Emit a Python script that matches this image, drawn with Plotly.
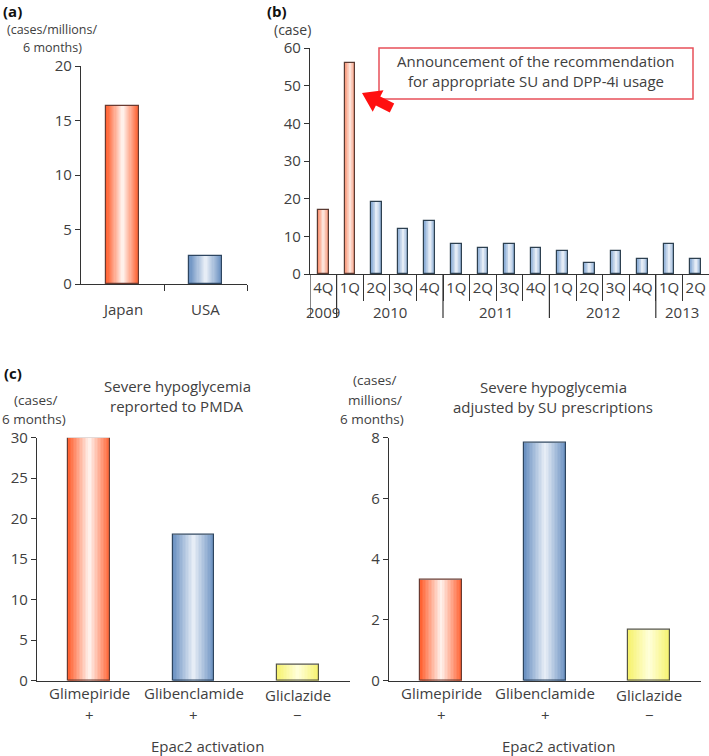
import plotly.graph_objects as go

W, H = 709, 756

# ---------------- data ----------------
a_categories = ["Japan", "USA"]
a_values = [16.3, 2.6]

b_quarters = ["4Q", "1Q", "2Q", "3Q", "4Q", "1Q", "2Q", "3Q", "4Q",
              "1Q", "2Q", "3Q", "4Q", "1Q", "2Q"]
b_year_groups = ["2009", "2010", "2011", "2012", "2013"]
b_year_counts = [1, 4, 4, 4, 2]
b_values = [17, 56, 19, 12, 14, 8, 7, 8, 7, 6, 3, 6, 4, 8, 4]
b_before = [True, True] + [False] * 13

c_drugs = ["Glimepiride", "Glibenclamide", "Gliclazide"]
c_epac2 = ["+", "+", "\u2212"]
c_pmda = [30, 18, 2]
c_adjusted = [3.33, 7.85, 1.67]

# ---------------- helpers ----------------
def px(x):
    return x / W

def py(y):
    return 1 - y / H

def hex2rgb(h):
    h = h.lstrip("#")
    return tuple(int(h[i:i + 2], 16) for i in (0, 2, 4))

def mix(c1, c2, t):
    a, b = hex2rgb(c1), hex2rgb(c2)
    return "rgb(%d,%d,%d)" % tuple(round(a[i] + (b[i] - a[i]) * t) for i in range(3))

RED = ("#FF6334", "#FFF0EA", "#6a3a30")
BLUE = ("#6C92C2", "#E6EDF6", "#2d4560")
YEL = ("#F6F270", "#FFFFD8", "#555544")
RED_B = ("#F99677", "#FDE2D8", "#5a3a32")
BLUE_B = ("#8DAED6", "#E4ECF6", "#2d4050")

TXT = "#404040"
FONT = "Open Sans"
AX = "#333333"

fig = go.Figure()

def grad_bars(xs, ys, xa, ya, width, styles, n=14):
    for k in range(n):
        t = k / (n - 1)
        w = width * (1 - k / n)
        cols = [mix(s[0], s[1], t) for s in styles]
        fig.add_trace(go.Bar(x=xs, y=ys, width=w, xaxis=xa, yaxis=ya,
                             marker=dict(color=cols, line=dict(width=0)),
                             showlegend=False, hoverinfo="skip"))
    fig.add_trace(go.Bar(x=xs, y=ys, width=width, xaxis=xa, yaxis=ya,
                         marker=dict(color="rgba(0,0,0,0)",
                                     line=dict(width=1.2, color=[s[2] for s in styles])),
                         showlegend=False, hoverinfo="skip"))

# panel a
a_x = list(range(len(a_categories)))
grad_bars(a_x, a_values, "x", "y", 0.39, [RED, BLUE])
# panel b
b_x = list(range(len(b_values)))
grad_bars(b_x, b_values, "x2", "y2", 0.4, [RED_B if f else BLUE_B for f in b_before], n=8)
# panel c left
c_x = list(range(len(c_drugs)))
grad_bars(c_x, c_pmda, "x3", "y3", 0.4, [RED, BLUE, YEL])
# panel c right
grad_bars(c_x, c_adjusted, "x4", "y4", 0.4, [RED, BLUE, YEL])

axis_common = dict(showline=True, linecolor=AX, linewidth=1.2, showgrid=False,
                   zeroline=False, fixedrange=True, automargin=False,
                   tickfont=dict(family=FONT, size=15, color=TXT))

def yax(dom_top, dom_bot, rng, dtick):
    return dict(axis_common, domain=[py(dom_bot), py(dom_top)], range=rng,
                tickmode="linear", tick0=0, dtick=dtick, ticks="outside",
                ticklen=5, tickcolor=AX, tickwidth=1.2)

fig.update_layout(
    width=W, height=H, margin=dict(l=0, r=0, t=0, b=0, autoexpand=False),
    paper_bgcolor="white", plot_bgcolor="white",
    barmode="overlay", bargap=0,
    font=dict(family=FONT, color=TXT, size=14),
    xaxis=dict(axis_common, domain=[px(81), px(247)], range=[-0.5, 1.5],
               anchor="y", tickvals=[], ticks="",
               minor=dict(tickvals=[0.5, 1.5], ticks="outside", ticklen=6,
                          tickcolor=AX, tickwidth=1.2)),
    yaxis=yax(66, 284, [0, 20], 5) | dict(anchor="x"),
    xaxis2=dict(axis_common, domain=[px(310), px(709)], range=[-0.5, 14.5],
                anchor="y2", tickvals=b_x, ticktext=b_quarters, ticks="",
                minor=dict(tickvals=[i + 0.5 for i in range(len(b_x) - 1)],
                           ticks="outside", ticklen=26, tickcolor=AX, tickwidth=1.2)),
    yaxis2=yax(48, 274, [0, 60], 10) | dict(anchor="x2"),
    xaxis3=dict(axis_common, domain=[px(37), px(350)], range=[-0.5, 2.5],
                anchor="y3", tickvals=[], ticks=""),
    yaxis3=yax(437.7, 680.7, [0, 30], 5) | dict(anchor="x3"),
    xaxis4=dict(axis_common, domain=[px(389), px(701)], range=[-0.5, 2.5],
                anchor="y4", tickvals=[], ticks=""),
    yaxis4=yax(437.7, 680.7, [0, 8], 2) | dict(anchor="x4"),
)

ann = []
def text(x, y, s, size=14, xref="paper", xanchor="center", bold=False):
    if xref == "paper":
        x = px(x)
    ann.append(dict(x=x, y=py(y), xref=xref, yref="paper", text=("<b>%s</b>" % s) if bold else s,
                    showarrow=False, xanchor=xanchor, yanchor="middle",
                    font=dict(family=FONT, size=size, color="#111" if bold else TXT)))

# panel a texts
text(1, 11, "(a)", size=15, xanchor="left", bold=True)
text(52, 30, "(cases/millions/", size=12.5)
text(53, 47, "6 months)", size=12.5)
for i, c in enumerate(a_categories):
    text(i, 309, c, size=15, xref="x")

# panel b texts
text(265, 11, "(b)", size=15, xanchor="left", bold=True)
text(292, 30, "(case)")
start = 0
for yr, cnt in zip(b_year_groups, b_year_counts):
    mid = start + (cnt - 1) / 2
    text(mid, 312, yr, size=15, xref="x2")
    start += cnt
text(536, 61, "Announcement of the recommendation", size=15)
text(536, 81, "for appropriate SU and DPP-4i usage", size=15)

# panel c texts
text(2, 373, "(c)", size=15, xanchor="left", bold=True)
text(35, 400, "(cases/", size=13.5)
text(34, 419, "6 months)", size=13.5)
text(177, 386, "Severe hypoglycemia", size=15)
text(177, 406, "reprorted to PMDA", size=15)
text(375, 380, "(cases/", size=13.5)
text(375, 400, "millions/", size=13.5)
text(372, 419, "6 months)", size=13.5)
text(553, 387, "Severe hypoglycemia", size=15)
text(553, 407, "adjusted by SU prescriptions", size=15)
for xa, xr in (("x3", 207), ("x4", 558)):
    for i, (d, e) in enumerate(zip(c_drugs, c_epac2)):
        text(i, 695 if i == 2 else 693, d, size=15, xref=xa)
        text(i, 715, e, size=15, xref=xa)
    text(xr, 746, "Epac2 activation", size=15)

fig.update_layout(annotations=ann)

# shapes: year separators in panel b, announcement box, arrow
shapes = []
boundaries = [-0.5]
s = 0
for cnt in b_year_counts[:-1]:
    s += cnt
    boundaries.append(s - 0.5)
for bx in boundaries:
    shapes.append(dict(type="line", xref="x2", yref="paper", x0=bx, x1=bx,
                       y0=py(274), y1=py(318), line=dict(color=AX, width=1.2)))
shapes.append(dict(type="rect", xref="paper", yref="paper",
                   x0=px(379), x1=px(693), y0=py(99), y1=py(48),
                   line=dict(color="#E8505A", width=1.5), fillcolor="white", layer="below"))
arrow = [(362, 93), (383.5, 90.3), (380.3, 96.5), (394.2, 103.5),
         (389.8, 112.5), (375.9, 105.5), (372.7, 111.7)]
path = "M " + " L ".join("%.5f,%.5f" % (px(a), py(b)) for a, b in arrow) + " Z"
shapes.append(dict(type="path", xref="paper", yref="paper", path=path,
                   fillcolor="#FF1010", line=dict(width=0)))
fig.update_layout(shapes=shapes)

fig.write_html("out.html", config={"displayModeBar": False},
               post_script="document.body.style.margin='0px';")
